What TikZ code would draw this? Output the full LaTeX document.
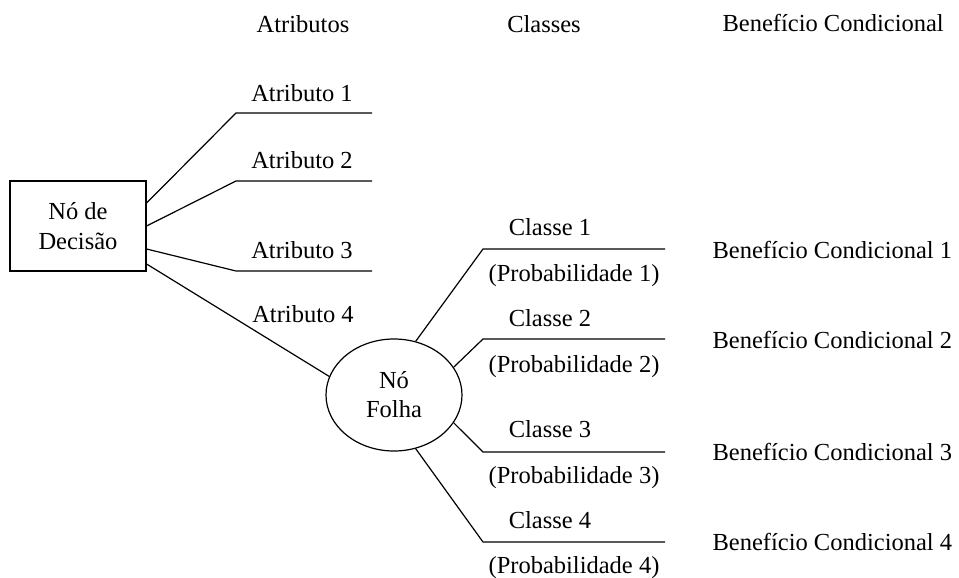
\documentclass[tikz,border=0pt]{standalone}
\usepackage{fontspec}
\setmainfont{Liberation Serif}
\usetikzlibrary{shapes.geometric,calc}

\tikzset{
  every picture/.style={line width=1.2pt},
  txt/.style={inner sep=0pt, anchor=base, font=\fontsize{24.5}{30}\selectfont},
  txtl/.style={txt, anchor=base west},
  decisionbox/.style={draw, rectangle, minimum width=136pt, minimum height=90pt,
    inner sep=0pt, align=center, font=\fontsize{24.5}{30}\selectfont},
  leafnode/.style={draw, ellipse, minimum width=136pt, minimum height=112pt,
    inner sep=0pt, align=center, font=\fontsize{24.5}{29}\selectfont},
  branch/.style={line join=miter}
}

\begin{document}
\begin{tikzpicture}[x=1pt, y=-1pt]
  \useasboundingbox (0,0) rectangle (959,578);

  % column headings
  \node[txt] (hattr) at (303,33) {Atributos};
  \node[txt] (hcls)  at (544,33) {Classes};
  \node[txtl] (hben) at (722,32) {Benefício Condicional};

  % decision node and leaf node
  \node[decisionbox] (dec) at (78,226) {Nó de\\Decisão};
  \node[leafnode] (leaf) at (394,395) {Nó\\Folha};

  % attribute branch elbows and ends
  \coordinate (a1) at (236,113); \coordinate (e1) at (372,113);
  \coordinate (a2) at (236,181); \coordinate (e2) at (372,181);
  \coordinate (a3) at (236,271); \coordinate (e3) at (372,271);

  \draw[branch] ($(dec.east)+(0,-23)$) -- (a1) -- (e1);
  \draw[branch] (dec.east) -- (a2) -- (e2);
  \draw[branch] ($(dec.east)+(0,23)$) -- (a3) -- (e3);
  \draw ($(dec.east)+(0,38)$) -- (leaf.164);

  \node[txt] (t1) at (302,101) {Atributo 1};
  \node[txt] (t2) at (302,168) {Atributo 2};
  \node[txt] (t3) at (302,258) {Atributo 3};
  \node[txt] (t4) at (303,322) {Atributo 4};

  % class branch elbows and ends
  \coordinate (c1) at (483,249); \coordinate (f1) at (665,249);
  \coordinate (c2) at (483,339); \coordinate (f2) at (665,339);
  \coordinate (c3) at (483,452); \coordinate (f3) at (665,452);
  \coordinate (c4) at (483,542); \coordinate (f4) at (665,542);

  \draw[branch] (leaf.68) -- (c1) -- (f1);
  \draw[branch] (leaf.25) -- (c2) -- (f2);
  \draw[branch] (leaf.-25) -- (c3) -- (f3);
  \draw[branch] (leaf.-68) -- (c4) -- (f4);

  \node[txt] (k1) at (550,235) {Classe 1};
  \node[txt] (p1) at (574,281) {(Probabilidade 1)};
  \node[txt] (k2) at (550,326) {Classe 2};
  \node[txt] (p2) at (574,372) {(Probabilidade 2)};
  \node[txt] (k3) at (550,437) {Classe 3};
  \node[txt] (p3) at (574,483) {(Probabilidade 3)};
  \node[txt] (k4) at (550,528) {Classe 4};
  \node[txt] (p4) at (574,573) {(Probabilidade 4)};

  % conditional benefit per class
  \node[txtl] (b1) at (712,258) {Benefício Condicional 1};
  \node[txtl] (b2) at (712,348) {Benefício Condicional 2};
  \node[txtl] (b3) at (712,460) {Benefício Condicional 3};
  \node[txtl] (b4) at (712,550) {Benefício Condicional 4};
\end{tikzpicture}
\end{document}
